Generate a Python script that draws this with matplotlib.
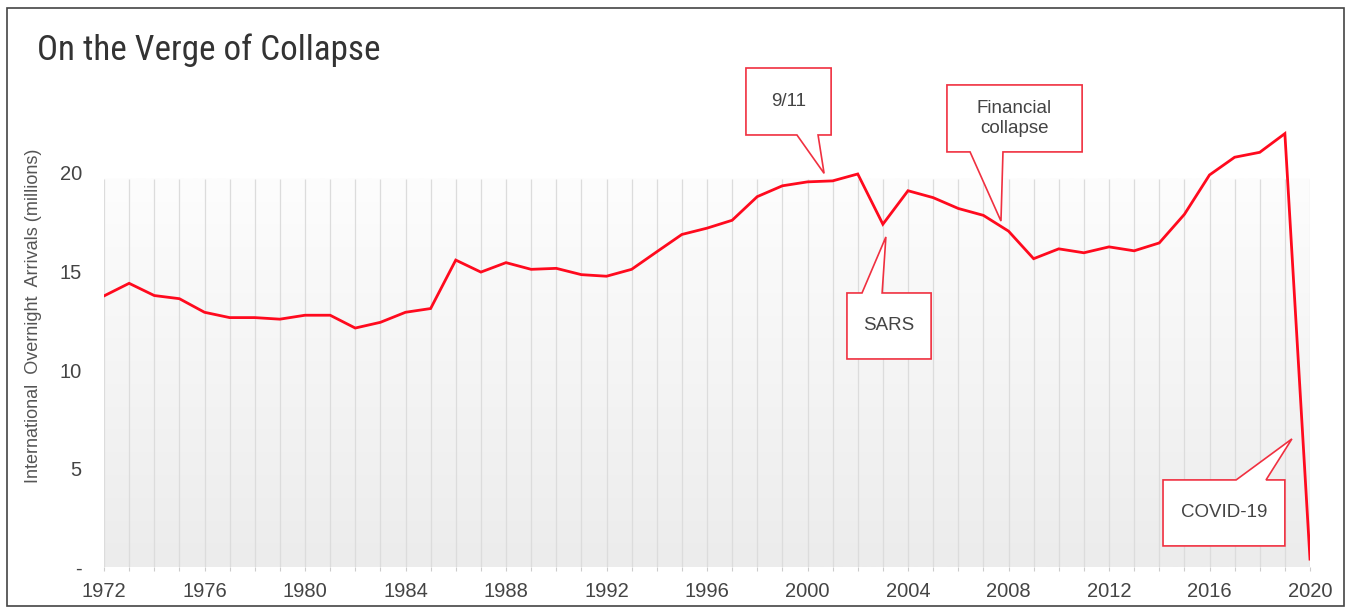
import numpy as np
import matplotlib.pyplot as plt
from matplotlib.patches import Polygon, Rectangle
from matplotlib.colors import LinearSegmentedColormap
from matplotlib import font_manager

# data (millions of arrivals)
years = list(range(1972, 2021))
arrivals = [13.76, 14.4, 13.78, 13.62, 12.93, 12.66, 12.66, 12.58, 12.78, 12.78,
            12.13, 12.42, 12.93, 13.12, 15.58, 14.97, 15.45, 15.11, 15.16, 14.84,
            14.76, 15.11, 16.0, 16.88, 17.2, 17.6, 18.8, 19.35, 19.55, 19.6,
            19.95, 17.4, 19.1, 18.75, 18.2, 17.85, 17.05, 15.65, 16.15, 15.95,
            16.25, 16.05, 16.45, 17.9, 19.9, 20.8, 21.05, 22.0, 0.4]

tick_years = list(range(1972, 2021, 4))
y_ticks = [0, 5, 10, 15, 20]
y_tick_labels = ['-', '5', '10', '15', '20']

# (text, tip year, tip offset from line, box x0, x1, y0, y1, pointer base b0, b1, side)
callouts = [
    ('9/11', 2000.66, 0.4, 1997.55, 2000.94, 21.93, 25.33, 1999.58, 2000.42, 'bottom'),
    ('Financial\ncollapse', 2007.7, 0.27, 2005.55, 2010.93, 21.07, 24.47, 2006.47, 2007.78, 'bottom'),
    ('SARS', 2003.12, -0.85, 2001.57, 2004.92, 10.56, 13.91, 2002.17, 2002.97, 'top'),
    ('COVID-19', 2019.28, -9.45, 2014.15, 2019.0, 1.07, 4.42, 2017.06, 2018.25, 'top'),
]

plt.rcParams['font.family'] = ['Liberation Sans', 'DejaVu Sans']
text_col = '#444444'
red = '#ff0a1e'
edge_red = '#f03040'

# pick a narrow face for the title if one is around
names = {f.name for f in font_manager.fontManager.ttflist}
title_font = 'Liberation Sans'
title_size = 21
for cand in ['Liberation Sans Narrow', 'Roboto Condensed', 'Open Sans Condensed', 'DejaVu Sans Condensed']:
    if cand in names:
        title_font = cand
        title_size = 25.3
        break

fig = plt.figure(figsize=(13.51, 6.10), dpi=100)
ax = fig.add_axes([104 / 1351, 1 - 567 / 610, 1206 / 1351, 512.2 / 610])

# grey gradient behind the series
cmap = LinearSegmentedColormap.from_list('bg', ['#ececec', '#fdfdfd'])
grad = np.linspace(0, 1, 256).reshape(-1, 1)
ax.imshow(grad, extent=[1972, 2020, 0, 19.7], origin='lower', aspect='auto',
          cmap=cmap, zorder=0)
ax.vlines(years, 0, 19.7, color='#dcdcdc', lw=0.9, zorder=1)

ax.plot(years, arrivals, color=red, lw=2.0, zorder=4, solid_joinstyle='miter')

for text, tx, off, x0, x1, y0, y1, b0, b1, side in callouts:
    tip = (tx, np.interp(tx, years, arrivals) + off)
    if side == 'bottom':
        pts = [(x0, y1), (x1, y1), (x1, y0), (b1, y0), tip, (b0, y0), (x0, y0)]
    else:
        pts = [(x0, y0), (x1, y0), (x1, y1), (b1, y1), tip, (b0, y1), (x0, y1)]
    ax.add_patch(Polygon(pts, closed=True, fc='white', ec=edge_red, lw=1.2, zorder=5))
    ax.text((x0 + x1) / 2, (y0 + y1) / 2, text, ha='center', va='center',
            fontsize=13.5, color=text_col, linespacing=1.25, zorder=6)

ax.set_xlim(1972, 2020)
ax.set_ylim(0, 26)
ax.set_xticks(years)
ax.set_xticklabels([str(y) if y in tick_years else '' for y in years])
ax.set_yticks(y_ticks)
ax.set_yticklabels(y_tick_labels)
ax.tick_params(axis='x', length=3, color='#cccccc', pad=8, labelsize=14.5, labelcolor=text_col)
ax.tick_params(axis='y', length=0, pad=16, labelsize=14.5, labelcolor=text_col)
for s in ax.spines.values():
    s.set_visible(False)

ax.set_ylabel('International  Overnight  Arrivals (millions)', fontsize=13, color='#555555')
ax.yaxis.set_label_coords(-0.051, 0.49)

fig.text(37 / 1351, 1 - 50 / 610, 'On the Verge of Collapse', fontsize=title_size,
         family=[title_font, 'DejaVu Sans'],
         color='#333333', va='center', ha='left')

fig.add_artist(Rectangle((7 / 1351, 4 / 610), 1337 / 1351, 598 / 610,
                         transform=fig.transFigure, fill=False, ec='#444444', lw=1.2))

plt.savefig('out.png', dpi=100)
